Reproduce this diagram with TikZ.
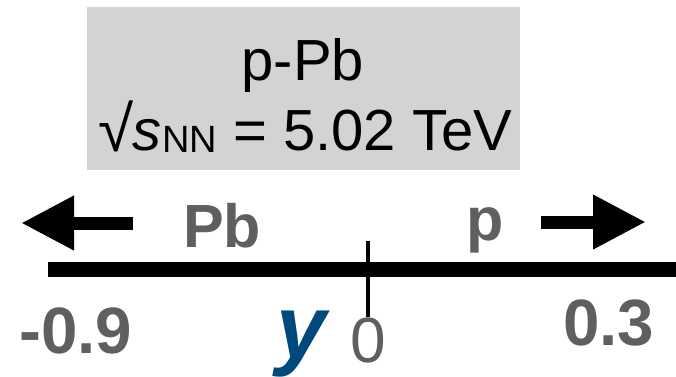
\documentclass[tikz,border=0pt]{standalone}
\usepackage{fontspec}
\setmainfont{Liberation Sans}
\usetikzlibrary{arrows.meta}
\definecolor{boxgray}{RGB}{211,211,211}
\definecolor{txtgray}{RGB}{95,95,95}
\definecolor{yblue}{RGB}{0,73,125}
\newcommand{\fsz}[1]{\fontsize{#1}{#1}\selectfont}
\tikzset{
  boxtext/.style={inner sep=0pt, text=black, font=\fsz{58}},
  graylabel/.style={inner sep=0pt, text=txtgray, font=\fsz{61}\bfseries},
  numlabel/.style={inner sep=0pt, text=txtgray, font=\fsz{65.5}\bfseries},
  bigarrow/.style={line width=13pt, -{Triangle[length=53pt,width=51pt]}},
}
\begin{document}
\begin{tikzpicture}[x=1pt,y=-1pt]
\useasboundingbox (0,0) rectangle (676,376);
\clip (0,0) rectangle (676,376);
% info box
\node[fill=boxgray, inner sep=0pt, minimum width=433pt, minimum height=163pt, anchor=north west] (box) at (87,7) {};
\node[boxtext, anchor=base] (sys) at (303,80) {p-Pb};
\node[boxtext, anchor=base west] (energy) at (98,150) {\raisebox{-1pt}{\fsz{64}\char"221A}\kern-1pt\textit{s}\kern1pt\raisebox{-2pt}{\fsz{38}NN} = 5.02 TeV};
% arrows
\coordinate (lstart) at (133,223);
\coordinate (ltip) at (21,223);
\coordinate (rstart) at (541,222);
\coordinate (rtip) at (646,222);
\draw[bigarrow] (lstart) -- (ltip);
\draw[bigarrow] (rstart) -- (rtip);
% beam labels
\node[graylabel, anchor=base west] (pb) at (183,247) {Pb};
\node[graylabel, anchor=base west] (p) at (466,240) {p};
% axis
\coordinate (axl) at (48,269.5);
\coordinate (axr) at (676,269.5);
\draw[line width=15pt] (axl) -- (axr);
% numbers
\node[numlabel, anchor=base west] (lo) at (19,353) {-0.9};
\node[numlabel, anchor=base west] (hi) at (563,345) {0.3};
\node[inner sep=0pt, text=txtgray, font=\fsz{64}, anchor=base] (zero) at (368.5,362) {0};
\node[inner sep=0pt, text=yblue, font=\fsz{90}\bfseries\itshape, anchor=base] (ylab) at (302,358) {y};
% tick
\coordinate (ttop) at (368,241);
\coordinate (tbot) at (368,317);
\draw[line width=4pt] (ttop) -- (tbot);
\end{tikzpicture}
\end{document}
